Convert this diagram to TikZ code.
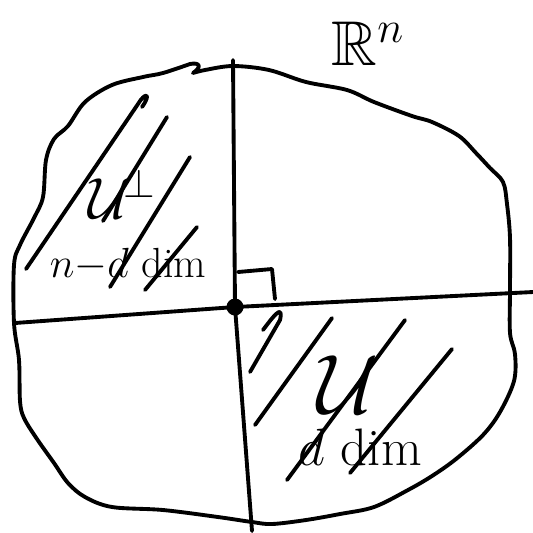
\RequirePackage{fix-cm}
\documentclass[tikz,border=0pt]{standalone}
\usepackage{amsmath}
\usepackage{amssymb}
\usepackage{tikz}
\tikzset{
  pen/.style={line width=2.2pt,line cap=round,line join=round,black},
  hatch/.style={pen},
  axis/.style={pen},
  origin/.style={circle,fill=black,inner sep=0pt,minimum size=0.34cm},
  bigtext/.style={inner sep=0pt,font=\fontsize{24}{28}\selectfont},
  subspace/.style={inner sep=0pt}
}

\begin{document}
\begin{tikzpicture}[x=0.02cm,y=-0.02cm]
  \useasboundingbox (0,0) rectangle (533,532);

  \draw[pen] plot[smooth,tension=0.55] coordinates {
    (193,73) (205,70) (233,66) (269,70) (306,82) (347,90) (374,102)
    (412,116) (432,122) (459,136) (476,153) (490,168) (503,182)
    (507,204) (510,238) (510,289) (510,333) (515,354) (514,381)
    (500,412) (483,435) (456,459) (432,476) (408,490) (374,507)
    (340,514) (306,520) (272,524) (252,522) (218,517) (163,510)
    (112,507) (85,497) (68,483) (54,463) (37,439) (24,418) (20,401)
    (19,360) (14,323) (14,265) (20,245) (34,218) (43,197) (46,160)
    (54,139) (68,126) (85,102) (112,85) (143,77) (163,73) (190,64)}
    .. controls (200,62) and (202,67) .. (193,73);

  \coordinate (vtop) at (233,60);
  \coordinate (vbot) at (252,531);
  \coordinate (hleft) at (15,323);
  \coordinate (hright) at (533,292);
  \node[origin] (o) at (235,307) {};

  \draw[axis] (vtop) -- (o.center) -- (vbot);
  \draw[axis] (hleft) -- (o.center) -- (hright);
  \draw[pen] (238,272) -- (272,269) -- (275,299);

  \draw[hatch] (26,269) -- (138,104) .. controls (145,92) and (152,93) .. (142,107);
  \draw[hatch] (167,117) -- (103,221);
  \draw[hatch] (190,157) -- (110,287);
  \draw[hatch] (197,227) -- (145,290);

  \draw[hatch] (263,330) .. controls (272,318) and (284,302) .. (280,320) -- (250,372);
  \draw[hatch] (332,318) -- (255,425);
  \draw[hatch] (405,320) -- (287,480);
  \draw[hatch] (452,349) -- (350,473);

  \node[subspace,font=\fontsize{33}{38}\selectfont] (uperp) at (122,194) {$\mathcal{U}^{\!\perp}$};
  \node[bigtext] (uperpdim) at (128,265) {$n{-}d$ dim};
  \node[subspace,font=\fontsize{48}{56}\selectfont] (usub) at (348,385) {$\mathcal{U}$};
  \node[bigtext,font=\fontsize{30}{34}\selectfont] (usubdim) at (360,447) {$d$ dim};
  \node[subspace,font=\fontsize{36}{42}\selectfont] (space) at (368,44) {$\mathbb{R}^n$};
\end{tikzpicture}
\end{document}
